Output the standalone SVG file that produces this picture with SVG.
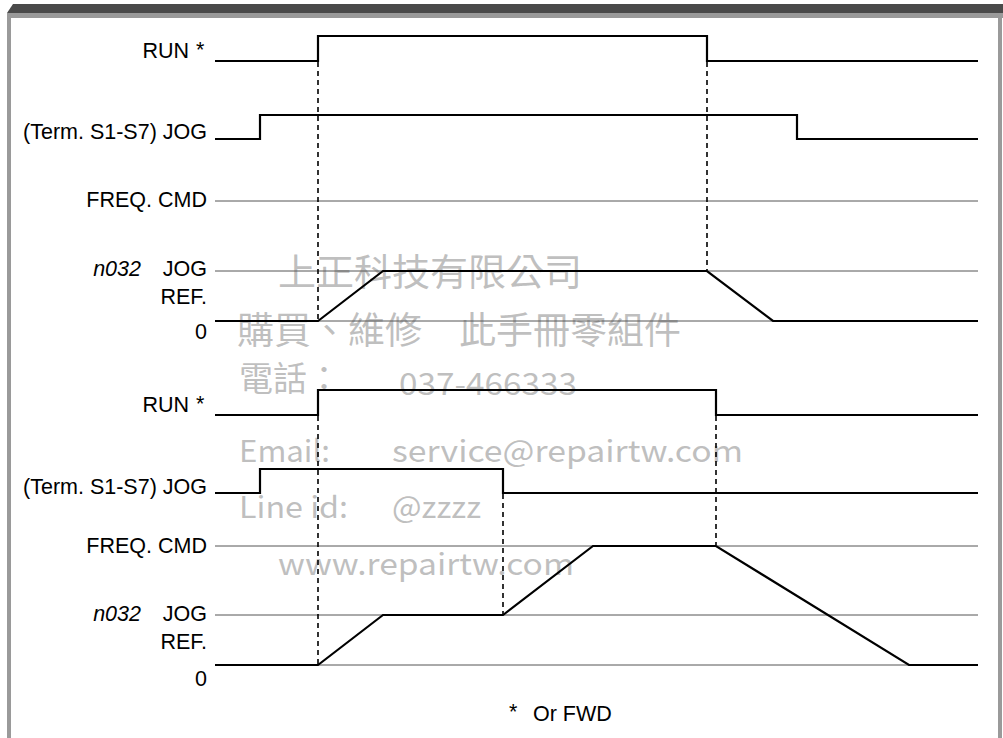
<svg xmlns="http://www.w3.org/2000/svg" width="1003" height="738" viewBox="0 0 1003 738">
<style>
.lbl{font-family:"Liberation Sans",Arial,sans-serif;font-size:21.5px;fill:#000}
.it{font-style:italic}
.ref{stroke:#555;stroke-width:1;fill:none}
.sig{stroke:#000;stroke-width:2.2;fill:none;stroke-linejoin:miter}
.dash{stroke:#000;stroke-width:1.6;stroke-dasharray:5,4;fill:none}
.wm{font-family:"Noto Sans CJK TC","Noto Sans",sans-serif;fill:#b4b4b4;fill-opacity:0.85}
</style>
<rect x="0" y="0" width="1003" height="738" fill="#fff"/>
<g id="frame">
<polygon points="7,13 13,4 1003,4 1003,13" fill="#4a4a4a"/>
<rect x="7" y="13" width="996" height="5" fill="#9a9a9a"/>
<rect x="7" y="13" width="4" height="725" fill="#9a9a9a"/>
<rect x="998" y="13" width="4" height="725" fill="#9a9a9a"/>
</g>
<g id="watermark">
<text class="wm" x="278" y="286" font-size="37" textLength="304" lengthAdjust="spacingAndGlyphs">上正科技有限公司</text>
<text class="wm" x="237" y="344" font-size="37" textLength="444" lengthAdjust="spacingAndGlyphs">購買、維修　此手冊零組件</text>
<text class="wm" x="239" y="391" font-size="34">電話：</text>
<text class="wm" x="399" y="395" font-size="30" textLength="178" lengthAdjust="spacingAndGlyphs">037-466333</text>
<text class="wm" x="239" y="462" font-size="30" textLength="91" lengthAdjust="spacingAndGlyphs">Email:</text>
<text class="wm" x="392" y="462" font-size="30" textLength="351" lengthAdjust="spacingAndGlyphs">service@repairtw.com</text>
<text class="wm" x="239" y="518" font-size="30" textLength="109" lengthAdjust="spacingAndGlyphs">Line id:</text>
<text class="wm" x="392" y="518" font-size="30" textLength="89" lengthAdjust="spacingAndGlyphs">@zzzz</text>
<text class="wm" x="278" y="575" font-size="30" textLength="296" lengthAdjust="spacingAndGlyphs">www.repairtw.com</text>
</g>
<g id="top-chart">
<g id="top-labels">
<text class="lbl" x="189" y="58" text-anchor="end">RUN</text>
<text class="lbl" x="196" y="57">*</text>
<text class="lbl" x="207" y="139" text-anchor="end">(Term. S1-S7) JOG</text>
<text class="lbl" x="207" y="207" text-anchor="end">FREQ. CMD</text>
<text class="lbl it" x="141" y="276" text-anchor="end">n032</text>
<text class="lbl" x="207" y="276" text-anchor="end">JOG</text>
<text class="lbl" x="207" y="304" text-anchor="end">REF.</text>
<text class="lbl" x="207" y="339" text-anchor="end">0</text>
</g>
<g id="top-refs">
<line class="ref" x1="215" y1="201" x2="978" y2="201"/>
<line class="ref" x1="215" y1="271" x2="978" y2="271"/>
<line class="ref" x1="215" y1="321" x2="978" y2="321"/>
</g>
<g id="top-signals">
<polyline class="sig" points="215,61 318,61 318,36 707,36 707,61 978,61"/>
<polyline class="sig" points="215,139 260,139 260,115 797,115 797,139 978,139"/>
<polyline class="sig" points="215,321 318,321 383,271 707,271 773,321 978,321"/>
</g>
</g>
<g id="bottom-chart">
<g id="bottom-labels">
<text class="lbl" x="189" y="412" text-anchor="end">RUN</text>
<text class="lbl" x="196" y="411">*</text>
<text class="lbl" x="207" y="494" text-anchor="end">(Term. S1-S7) JOG</text>
<text class="lbl" x="207" y="553" text-anchor="end">FREQ. CMD</text>
<text class="lbl it" x="141" y="621" text-anchor="end">n032</text>
<text class="lbl" x="207" y="621" text-anchor="end">JOG</text>
<text class="lbl" x="207" y="649" text-anchor="end">REF.</text>
<text class="lbl" x="207" y="686" text-anchor="end">0</text>
</g>
<g id="bottom-refs">
<line class="ref" x1="215" y1="546" x2="978" y2="546"/>
<line class="ref" x1="215" y1="615" x2="978" y2="615"/>
<line class="ref" x1="215" y1="665" x2="978" y2="665"/>
</g>
<g id="bottom-signals">
<polyline class="sig" points="215,415 318,415 318,390 716,390 716,415 978,415"/>
<polyline class="sig" points="215,493 260,493 260,469 503,469 503,493 978,493"/>
<polyline class="sig" points="215,665 318,665 383,615 503,615 593,546 716,546 909,665 978,665"/>
</g>
</g>
<g id="connectors">
<line class="dash" x1="318" y1="62" x2="318" y2="320"/>
<line class="dash" x1="707" y1="62" x2="707" y2="270"/>
<line class="dash" x1="318" y1="416" x2="318" y2="664"/>
<line class="dash" x1="503" y1="494" x2="503" y2="614"/>
<line class="dash" x1="716" y1="416" x2="716" y2="545"/>
</g>
<g id="footnote">
<text class="lbl" x="509" y="719">*</text>
<text class="lbl" x="533" y="721" font-size="21">Or FWD</text>
</g>
</svg>
